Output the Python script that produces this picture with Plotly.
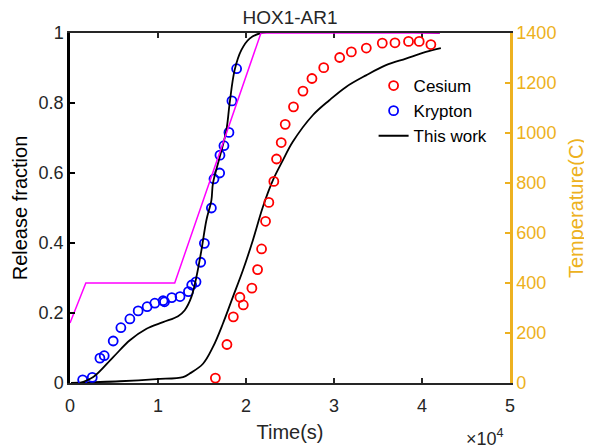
import plotly.graph_objects as go

# Krypton measured release
kr_t = [1440, 2528, 3401, 3889, 4909, 5782, 6803, 7744, 8764, 9637, 10578, 10737,
        11565, 12506, 13458, 13832, 14320, 14853, 15272, 16066, 16361, 17007, 17041,
        17494, 18061, 18401, 18934]
kr_f = [0.009, 0.016, 0.071, 0.078, 0.120, 0.158, 0.183, 0.206, 0.218, 0.228, 0.235, 0.232,
        0.244, 0.247, 0.261, 0.280, 0.289, 0.345, 0.399, 0.500, 0.583, 0.600, 0.651,
        0.678, 0.716, 0.806, 0.898]

# Cesium measured release
cs_t = [16519, 17834, 18560, 19308, 19694, 20669, 21315, 21769, 22222, 22596, 23163,
        23469, 24002, 24456, 25397, 26474, 27494, 28832, 30646, 31973, 33673, 35488,
        36927, 38469, 39683, 41009]
cs_f = [0.014, 0.110, 0.189, 0.245, 0.223, 0.271, 0.324, 0.383, 0.462, 0.516, 0.576,
        0.640, 0.687, 0.739, 0.789, 0.834, 0.870, 0.901, 0.930, 0.946, 0.957, 0.971,
        0.972, 0.976, 0.976, 0.967]

# Model (This work) - krypton
mk_t = [1134, 2642, 4909, 6803, 8696, 10578, 12279, 13039, 13798, 14365, 14932, 15499,
        16066, 16247, 17007, 17766, 18141, 18707, 19467, 20408, 21735, 42000]
mk_f = [0.0, 0.017, 0.074, 0.122, 0.155, 0.174, 0.191, 0.208, 0.246, 0.303, 0.379, 0.465,
        0.522, 0.571, 0.645, 0.722, 0.799, 0.894, 0.951, 0.984, 1.0, 1.0]

# Model (This work) - cesium
mc_t = [113, 5669, 9830, 12846, 13605, 15113, 16247, 17381, 18515, 19649, 20782, 21916,
        23050, 24184, 25317, 27585, 29478, 31372, 33640, 35907, 38175, 40442, 42143]
mc_f = [0.0, 0.005, 0.011, 0.017, 0.027, 0.055, 0.103, 0.170, 0.246, 0.322, 0.408, 0.503,
        0.579, 0.636, 0.689, 0.765, 0.808, 0.846, 0.879, 0.908, 0.927, 0.946, 0.957]

# Temperature history
temp_t = [0, 1800, 11900, 21700, 42000]
temp_c = [240, 400, 400, 1400, 1400]

x_ticks = [0, 10000, 20000, 30000, 40000, 50000]
x_ticktext = ["0", "1", "2", "3", "4", "5"]
y_ticks = [0, 0.2, 0.4, 0.6, 0.8, 1]
y_ticktext = ["0", "0.2", "0.4", "0.6", "0.8", "1"]
y2_ticks = [0, 200, 400, 600, 800, 1000, 1200, 1400]

ORANGE = "#EDB120"
DARK = "#262626"
FONT = "Liberation Sans, Arial, sans-serif"

fig = go.Figure()

fig.add_trace(go.Scatter(x=mc_t, y=mc_f, mode="lines", line=dict(color="black", width=1.8),
                         showlegend=False, line_shape="spline"))
fig.add_trace(go.Scatter(x=cs_t, y=cs_f, mode="markers", name="Cesium",
                         marker=dict(symbol="circle-open", color="#FF0000", size=9,
                                     line=dict(width=1.8, color="#FF0000"))))
fig.add_trace(go.Scatter(x=kr_t, y=kr_f, mode="markers", name="Krypton",
                         marker=dict(symbol="circle-open", color="#0000FF", size=9,
                                     line=dict(width=1.8, color="#0000FF"))))
fig.add_trace(go.Scatter(x=mk_t, y=mk_f, mode="lines", name="This work",
                         line=dict(color="black", width=1.8), line_shape="spline"))
fig.add_trace(go.Scatter(x=temp_t, y=temp_c, mode="lines", yaxis="y2",
                         line=dict(color="#FF00FF", width=1.5), showlegend=False))

fig.update_layout(
    width=584, height=440,
    margin=dict(l=62, r=82, t=25, b=65, autoexpand=False),
    paper_bgcolor="white", plot_bgcolor="white",
    font=dict(family=FONT, size=17, color="black"),
    title=dict(text="HOX1-AR1", x=0.483, xanchor="center", y=0.978, yanchor="middle",
               font=dict(size=19, color=DARK)),
    xaxis=dict(range=[0, 50000], tickvals=x_ticks, ticktext=x_ticktext,
               ticks="inside", ticklen=5, tickwidth=1.5, tickcolor=DARK,
               showline=True, linecolor=DARK, linewidth=1.5, mirror="ticks",
               showgrid=False, zeroline=False, layer="below traces",
               ticklabelstandoff=6, automargin=False,
               tickfont=dict(size=18, color=DARK),
               title=dict(text="Time(s)", font=dict(size=20, color=DARK), standoff=10)),
    yaxis=dict(range=[0, 1], tickvals=y_ticks, ticktext=y_ticktext,
               ticks="inside", ticklen=5, tickwidth=1.5, tickcolor="black",
               showline=True, linecolor="black", linewidth=2.5,
               showgrid=False, zeroline=False, automargin=False,
               tickfont=dict(size=18, color=DARK),
               title=dict(text="Release fraction", font=dict(size=20, color="black"), standoff=6)),
    yaxis2=dict(range=[0, 1400], tickvals=y2_ticks, overlaying="y", side="right",
                ticks="inside", ticklen=5, tickwidth=2, tickcolor=ORANGE,
                showline=True, linecolor=ORANGE, linewidth=2.5,
                showgrid=False, zeroline=False, automargin=False,
                tickfont=dict(size=18, color=ORANGE),
                title=dict(text="Temperature(C)", font=dict(size=20, color=ORANGE), standoff=14)),
    legend=dict(x=0.69, y=0.9, xanchor="left", yanchor="top",
                bgcolor="rgba(255,255,255,0)", borderwidth=0,
                font=dict(size=17, color="black"), itemwidth=30, tracegroupgap=0),
    showlegend=True,
)

fig.add_annotation(text="×10<sup>4</sup>", xref="paper", yref="paper", x=0.99, y=-0.155,
                   xanchor="right", yanchor="middle", showarrow=False,
                   font=dict(size=18, color=DARK))

fig.write_html("out.html")
